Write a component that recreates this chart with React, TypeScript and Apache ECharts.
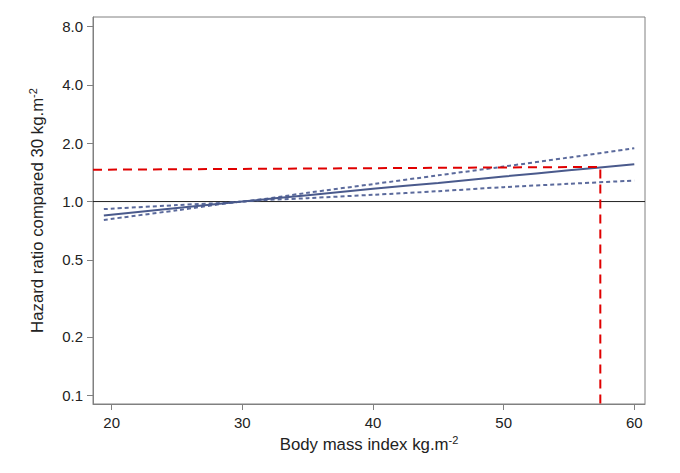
import React, { useEffect, useRef } from "react";
import * as echarts from "echarts";

// ---- data ----
const xTicks = [20, 30, 40, 50, 60];
const yTicks = [0.1, 0.2, 0.5, 1.0, 2.0, 4.0, 8.0];
const xLimits = [18.57, 60.82];
const yLimits = [0.09, 8.98];

const bmi = [19.4, 25, 30, 35, 40, 45, 50, 55, 60];
const hazard = [0.847, 0.925, 1.0, 1.079, 1.165, 1.248, 1.347, 1.449, 1.559];
const hazardUpper = [0.914, 0.959, 1.0, 1.11, 1.231, 1.366, 1.516, 1.688, 1.886];
const hazardLower = [0.804, 0.901, 1.0, 1.041, 1.084, 1.131, 1.187, 1.235, 1.283];

const refX = [18.57, 60.82];
const refY = [1.0, 1.0];

const cutX = [18.57, 57.4, 57.4];
const cutY = [1.46, 1.51, 0.09];

const log2 = (v: number) => Math.log(v) / Math.LN2;
const pairs = (xs: number[], ys: number[]) => xs.map((x, i) => [x, log2(ys[i])]);

const FONT = "'Liberation Sans', Arial, sans-serif";
const TEXT = "#222";
const FRAME = "#808080";

export default function App() {
  const ref = useRef<HTMLDivElement>(null);

  useEffect(() => {
    if (!ref.current) return;
    const chart = echarts.init(ref.current, null, { renderer: "svg" });
    const richName = {
      a: { fontSize: 16.8, lineHeight: 20, fontFamily: FONT, color: TEXT },
      b: { fontSize: 11, lineHeight: 7, verticalAlign: "top", fontFamily: FONT, color: TEXT },
    };
    chart.setOption({
      animation: false,
      grid: {
        left: 93,
        right: 35,
        top: 17,
        bottom: 69,
        show: true,
        borderColor: FRAME,
        borderWidth: 1,
        backgroundColor: "transparent",
      },
      xAxis: {
        type: "value",
        min: xLimits[0],
        max: xLimits[1],
        name: "{a|Body mass index kg.m}{b|-2}",
        nameLocation: "middle",
        nameGap: 30,
        nameTextStyle: { rich: richName },
        axisLine: { show: true, onZero: false, lineStyle: { color: FRAME, width: 1 } },
        axisTick: { show: true, inside: false, length: 6, customValues: xTicks, lineStyle: { color: FRAME } },
        axisLabel: {
          customValues: xTicks,
          margin: 11,
          fontSize: 15,
          fontFamily: FONT,
          color: TEXT,
          formatter: (v: number) => String(Math.round(v)),
        },
        splitLine: { show: false },
      },
      yAxis: {
        type: "value",
        min: log2(yLimits[0]),
        max: log2(yLimits[1]),
        name: "{a|Hazard ratio compared 30 kg.m}{b|-2}",
        nameLocation: "middle",
        nameGap: 46,
        nameRotate: 90,
        nameTextStyle: { rich: richName },
        axisLine: { show: true, onZero: false, lineStyle: { color: FRAME, width: 1 } },
        axisTick: {
          show: true,
          inside: false,
          length: 6,
          customValues: yTicks.map(log2),
          lineStyle: { color: FRAME },
        },
        axisLabel: {
          customValues: yTicks.map(log2),
          margin: 10,
          fontSize: 15,
          fontFamily: FONT,
          color: TEXT,
          formatter: (v: number) => Math.pow(2, v).toFixed(1),
        },
        splitLine: { show: false },
      },
      series: [
        {
          type: "line",
          data: pairs(refX, refY),
          symbol: "none",
          lineStyle: { color: "#222", width: 1 },
          z: 1,
        },
        {
          type: "line",
          data: pairs(bmi, hazardUpper),
          symbol: "none",
          smooth: 0.3,
          lineStyle: { color: "#5b6a9c", width: 2, type: [4, 3] },
          z: 2,
        },
        {
          type: "line",
          data: pairs(bmi, hazardLower),
          symbol: "none",
          smooth: 0.3,
          lineStyle: { color: "#5b6a9c", width: 2, type: [4, 3] },
          z: 2,
        },
        {
          type: "line",
          data: pairs(bmi, hazard),
          symbol: "none",
          smooth: 0.3,
          lineStyle: { color: "#4a5a8c", width: 2 },
          z: 3,
        },
        {
          type: "line",
          data: pairs(cutX, cutY),
          symbol: "none",
          lineStyle: { color: "#e00000", width: 2, type: [9, 6] },
          z: 4,
        },
      ],
    });
    return () => chart.dispose();
  }, []);

  return (
    <div
      ref={ref}
      style={{ position: "fixed", left: 0, top: 0, width: 680, height: 473, background: "#fff" }}
    />
  );
}
